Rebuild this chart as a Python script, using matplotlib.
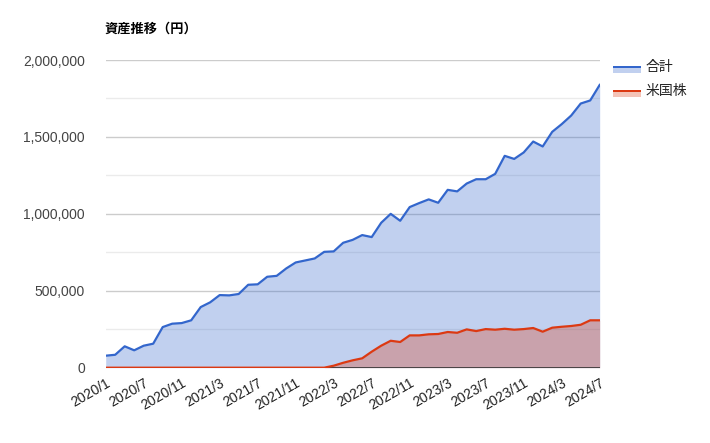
import matplotlib
matplotlib.use("Agg")
import matplotlib.pyplot as plt
from matplotlib.patches import Rectangle
from matplotlib.ticker import FuncFormatter, MultipleLocator

plt.rcParams["font.family"] = ["Liberation Sans", "Noto Sans CJK JP"]

# 月ラベル（2020/1 の後に抜けあり）
months = [
    "2020/1", "2020/3", "2020/4", "2020/6", "2020/7", "2020/8", "2020/9",
    "2020/10", "2020/11", "2020/12", "2021/1", "2021/2", "2021/3", "2021/4",
    "2021/5", "2021/6", "2021/7", "2021/8", "2021/9", "2021/10", "2021/11",
    "2021/12", "2022/1", "2022/2", "2022/3", "2022/4", "2022/5", "2022/6",
    "2022/7", "2022/8", "2022/9", "2022/10", "2022/11", "2022/12", "2023/1",
    "2023/2", "2023/3", "2023/4", "2023/5", "2023/6", "2023/7", "2023/8",
    "2023/9", "2023/10", "2023/11", "2023/12", "2024/1", "2024/2", "2024/3",
    "2024/4", "2024/5", "2024/6", "2024/7",
]

total = [
    78000, 84000, 139000, 113000, 143000, 156000, 264000, 286000, 290000,
    308000, 394000, 425000, 472000, 470000, 479000, 539000, 542000, 591000,
    597000, 645000, 684000, 697000, 710000, 753000, 756000, 812000, 831000,
    862000, 849000, 942000, 1000000, 955000, 1044000, 1070000, 1094000,
    1072000, 1156000, 1146000, 1197000, 1225000, 1225000, 1260000, 1377000,
    1357000, 1399000, 1470000, 1438000, 1533000, 1583000, 1639000, 1717000,
    1737000, 1838000,
]

us_stock = [
    0, 0, 0, 0, 0, 0, 0, 0, 0, 0, 0, 0, 0, 0, 0, 0, 0, 0, 0, 0, 0, 0, 0, 0,
    13000, 32000, 48000, 61000, 104000, 143000, 175000, 167000, 210000,
    210000, 217000, 219000, 232000, 227000, 249000, 238000, 251000, 247000,
    253000, 247000, 251000, 258000, 234000, 260000, 266000, 271000, 279000,
    308000, 308000,
]

series_names = ["合計", "米国株"]
colors = ["#3366CC", "#DC3912"]

W, H = 710, 443
fig = plt.figure(figsize=(W / 100, H / 100), dpi=100)
ax = fig.add_axes([105.7 / W, 1 - 367.7 / H, 494 / W, 307.7 / H])

x = list(range(len(months)))
for vals, c in zip([total, us_stock], colors):
    ax.fill_between(x, 0, vals, color=c, alpha=0.3, linewidth=0, zorder=2)
    ax.plot(x, vals, color=c, linewidth=1.6, zorder=4, solid_joinstyle="round")

ax.set_xlim(0, len(months) - 1)
ax.set_ylim(0, 2000000)

# グリッド
for v in range(0, 2000001, 250000):
    if v == 0:
        continue
    gc = "#CCCCCC" if v % 500000 == 0 else "#EBEBEB"
    ax.axhline(v, color=gc, linewidth=1, zorder=1)
ax.axhline(0, color="#333333", linewidth=1.2, zorder=3)

ax.yaxis.set_major_locator(MultipleLocator(500000))
ax.yaxis.set_major_formatter(FuncFormatter(lambda v, p: f"{int(v):,}"))
ticks = x[::4]
ax.set_xticks(ticks)
ax.set_xticklabels([months[i] for i in ticks], rotation=30, ha="right",
                   va="top", rotation_mode="anchor")
ax.tick_params(axis="both", length=0, labelsize=10, colors="#444444")
ax.tick_params(axis="y", pad=15)
ax.tick_params(axis="x", pad=6, labelcolor="#222222")
for s in ax.spines.values():
    s.set_visible(False)

fig.text(105 / W, 1 - 28.5 / H, "資産推移（円）", fontsize=9.5,
         fontweight="bold", va="center", ha="left",
         family=["Noto Sans CJK JP", "DejaVu Sans"])

# 凡例
for k, (name, c) in enumerate(zip(series_names, colors)):
    ytop = 66 + k * 24
    fig.add_artist(Rectangle((612.7 / W, 1 - (ytop + 7) / H), 28 / W, 7 / H,
                             transform=fig.transFigure, facecolor=c,
                             alpha=0.3, linewidth=0))
    fig.add_artist(Rectangle((612.7 / W, 1 - (ytop + 2) / H), 28 / W, 2 / H,
                             transform=fig.transFigure, facecolor=c,
                             linewidth=0))
    fig.text(646 / W, 1 - (ytop + 1) / H, name, fontsize=10, color="#222222",
             va="center", ha="left", family=["Noto Sans CJK JP", "DejaVu Sans"])

fig.savefig("out.png", dpi=100)
